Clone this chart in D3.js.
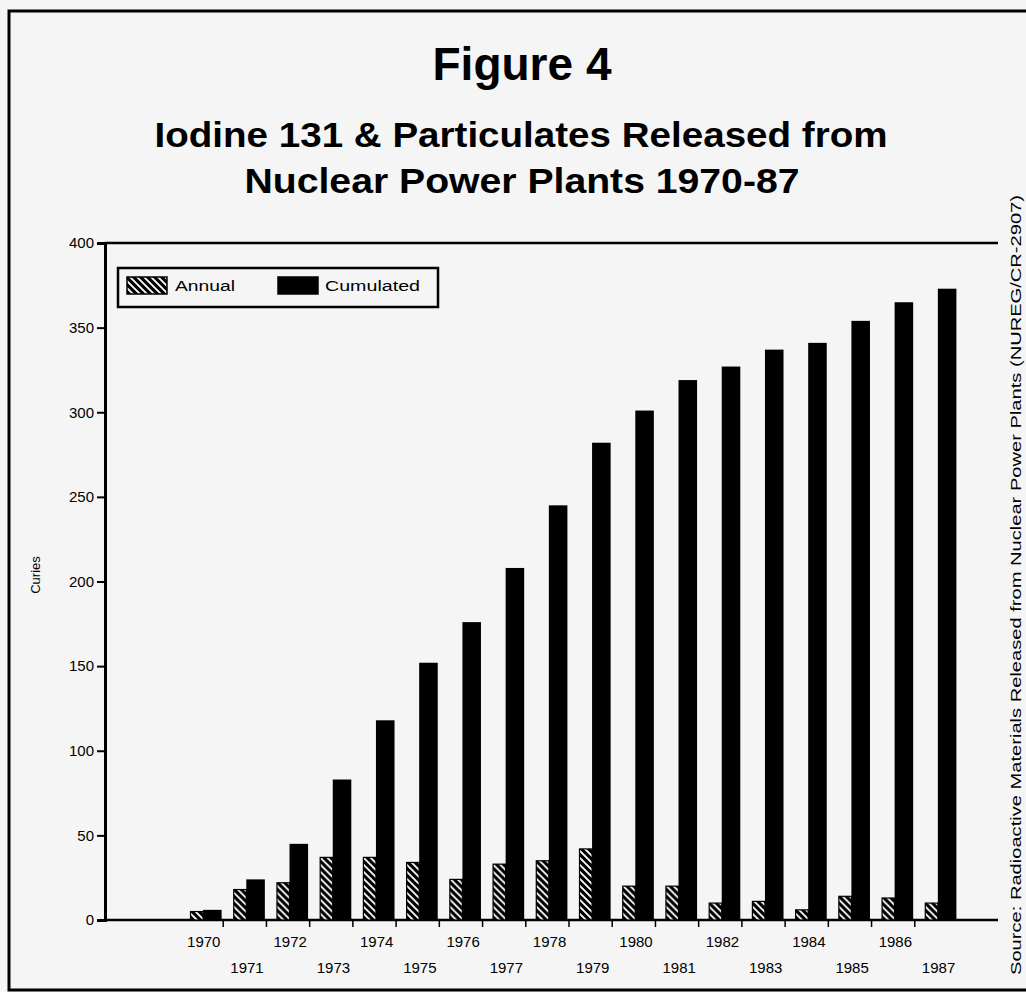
<!DOCTYPE html>
<html>
<head>
<meta charset="utf-8">
<script src="https://cdn.jsdelivr.net/npm/d3@7/dist/d3.min.js"></script>
<style>
  html, body { margin: 0; padding: 0; background: #f5f5f5; }
  svg { display: block; font-family: "Liberation Sans", Arial, sans-serif; }
</style>
</head>
<body>
<svg id="chart" width="1026" height="992"></svg>
<script>
// values (curies)
const years = [1970, 1971, 1972, 1973, 1974, 1975, 1976, 1977, 1978, 1979,
               1980, 1981, 1982, 1983, 1984, 1985, 1986, 1987];
const annual = [5, 18, 22, 37, 37, 34, 24, 33, 35, 42, 20, 20, 10, 11, 6, 14, 13, 10];
const cumulated = [6, 24, 45, 83, 118, 152, 176, 208, 245, 282, 301, 319, 327, 337, 341, 354, 365, 373];
const seriesNames = ["Annual", "Cumulated"];
const yTicks = [0, 50, 100, 150, 200, 250, 300, 350, 400];

const dims = { width: 1026, height: 992, left: 105, right: 998, top: 243, bottom: 920 };

const svg = d3.select("#chart");

svg.append("rect")
  .attr("width", dims.width).attr("height", dims.height)
  .attr("fill", "#f5f5f5");

// outer frame of the page
svg.append("rect")
  .attr("x", 9).attr("y", 11)
  .attr("width", 1040).attr("height", 979)
  .attr("fill", "none").attr("stroke", "#000").attr("stroke-width", 3);

// hatch for the annual bars
const defs = svg.append("defs");
const pat = defs.append("pattern")
  .attr("id", "hatch")
  .attr("patternUnits", "userSpaceOnUse")
  .attr("width", 7).attr("height", 7);
pat.append("rect").attr("width", 7).attr("height", 7).attr("fill", "#000");
pat.append("path")
  .attr("d", "M-1,-1 L8,8 M-1,6 L1,8 M6,-1 L8,1")
  .attr("stroke", "#fff").attr("stroke-width", 1.8);

// titles
svg.append("text")
  .attr("x", 522).attr("y", 80)
  .attr("text-anchor", "middle")
  .attr("font-size", 46).attr("font-weight", "bold")
  .attr("textLength", 179).attr("lengthAdjust", "spacingAndGlyphs")
  .text("Figure 4");

svg.append("text")
  .attr("x", 521).attr("y", 147)
  .attr("text-anchor", "middle")
  .attr("font-size", 35).attr("font-weight", "bold")
  .attr("textLength", 733).attr("lengthAdjust", "spacingAndGlyphs")
  .text("Iodine 131 & Particulates Released from");

svg.append("text")
  .attr("x", 522).attr("y", 193)
  .attr("text-anchor", "middle")
  .attr("font-size", 35).attr("font-weight", "bold")
  .attr("textLength", 555).attr("lengthAdjust", "spacingAndGlyphs")
  .text("Nuclear Power Plants 1970-87");

// scales
const x = d3.scaleBand()
  .domain(years)
  .range([180, 958])
  .padding(0);

const xSub = d3.scaleBand()
  .domain(seriesNames)
  .range([x.step() * 0.22, x.step() * 0.94])
  .padding(0);

const y = d3.scaleLinear()
  .domain([0, 400])
  .range([dims.bottom, dims.top]);

// frame lines
svg.append("line")
  .attr("x1", dims.left).attr("x2", dims.right)
  .attr("y1", dims.top).attr("y2", dims.top)
  .attr("stroke", "#000").attr("stroke-width", 2.5);

svg.append("line")
  .attr("x1", dims.left).attr("x2", dims.right)
  .attr("y1", dims.bottom).attr("y2", dims.bottom)
  .attr("stroke", "#000").attr("stroke-width", 2.5);

// y axis
svg.append("g")
  .attr("transform", `translate(${dims.left},0)`)
  .call(d3.axisLeft(y).tickValues(yTicks).tickSize(8).tickPadding(3))
  .attr("font-family", "Liberation Sans, Arial, sans-serif")
  .attr("font-size", 15)
  .call(g => g.select(".domain").attr("stroke-width", 3))
  .call(g => g.selectAll(".tick line").attr("stroke-width", 2))
  .call(g => g.selectAll(".tick text").attr("fill", "#000"));

svg.append("text")
  .attr("transform", "translate(40,575) rotate(-90)")
  .attr("text-anchor", "middle")
  .attr("font-size", 13)
  .text("Curies");

// bars
const rows = years.map((yr, i) => ({ year: yr, Annual: annual[i], Cumulated: cumulated[i] }));

const groups = svg.append("g")
  .attr("class", "bar-groups")
  .selectAll("g")
  .data(rows)
  .join("g")
  .attr("transform", d => `translate(${x(d.year)},0)`);

groups.append("rect")
  .attr("x", xSub("Annual") + 1)
  .attr("y", d => y(d.Annual))
  .attr("width", xSub.bandwidth() - 3)
  .attr("height", d => y(0) - y(d.Annual))
  .attr("fill", "url(#hatch)")
  .attr("stroke", "#000").attr("stroke-width", 1.2);

groups.append("rect")
  .attr("x", xSub("Cumulated") - 2)
  .attr("y", d => y(d.Cumulated))
  .attr("width", xSub.bandwidth() + 3)
  .attr("height", d => y(0) - y(d.Cumulated))
  .attr("fill", "#000");

// x axis: ticks between groups, labels staggered
const xAxis = svg.append("g")
  .attr("transform", `translate(0,${dims.bottom})`);

xAxis.selectAll("line.sep")
  .data(years.slice(0, -1))
  .join("line")
  .attr("class", "sep")
  .attr("x1", d => x(d) + x.step()).attr("x2", d => x(d) + x.step())
  .attr("y1", 0).attr("y2", 7)
  .attr("stroke", "#000").attr("stroke-width", 1.5);

xAxis.selectAll("text.yr")
  .data(years)
  .join("text")
  .attr("class", "yr")
  .attr("x", d => x(d) + x.step() * 0.55)
  .attr("y", (d, i) => i % 2 === 0 ? 27 : 53)
  .attr("text-anchor", "middle")
  .attr("font-size", 15)
  .text(d => d);

// legend
const legend = svg.append("g").attr("class", "legend");
legend.append("rect")
  .attr("x", 118).attr("y", 268)
  .attr("width", 320).attr("height", 39)
  .attr("fill", "#f5f5f5").attr("stroke", "#000").attr("stroke-width", 2.5);

const legendItems = [
  { name: seriesNames[0], fill: "url(#hatch)", x: 127, tx: 175, len: 60 },
  { name: seriesNames[1], fill: "#000", x: 278, tx: 325, len: 95 }
];
legend.selectAll("rect.swatch")
  .data(legendItems)
  .join("rect")
  .attr("class", "swatch")
  .attr("x", d => d.x).attr("y", 277)
  .attr("width", 40).attr("height", 17)
  .attr("fill", d => d.fill)
  .attr("stroke", "#000").attr("stroke-width", 1.5);

legend.selectAll("text")
  .data(legendItems)
  .join("text")
  .attr("x", d => d.tx).attr("y", 291)
  .attr("font-size", 14)
  .attr("textLength", d => d.len).attr("lengthAdjust", "spacingAndGlyphs")
  .text(d => d.name);

// source note along the right edge
svg.append("text")
  .attr("transform", "translate(1021,585) rotate(-90)")
  .attr("text-anchor", "middle")
  .attr("font-size", 15)
  .attr("textLength", 780).attr("lengthAdjust", "spacingAndGlyphs")
  .text("Source: Radioactive Materials Released from Nuclear Power Plants (NUREG/CR-2907)");
</script>
</body>
</html>
